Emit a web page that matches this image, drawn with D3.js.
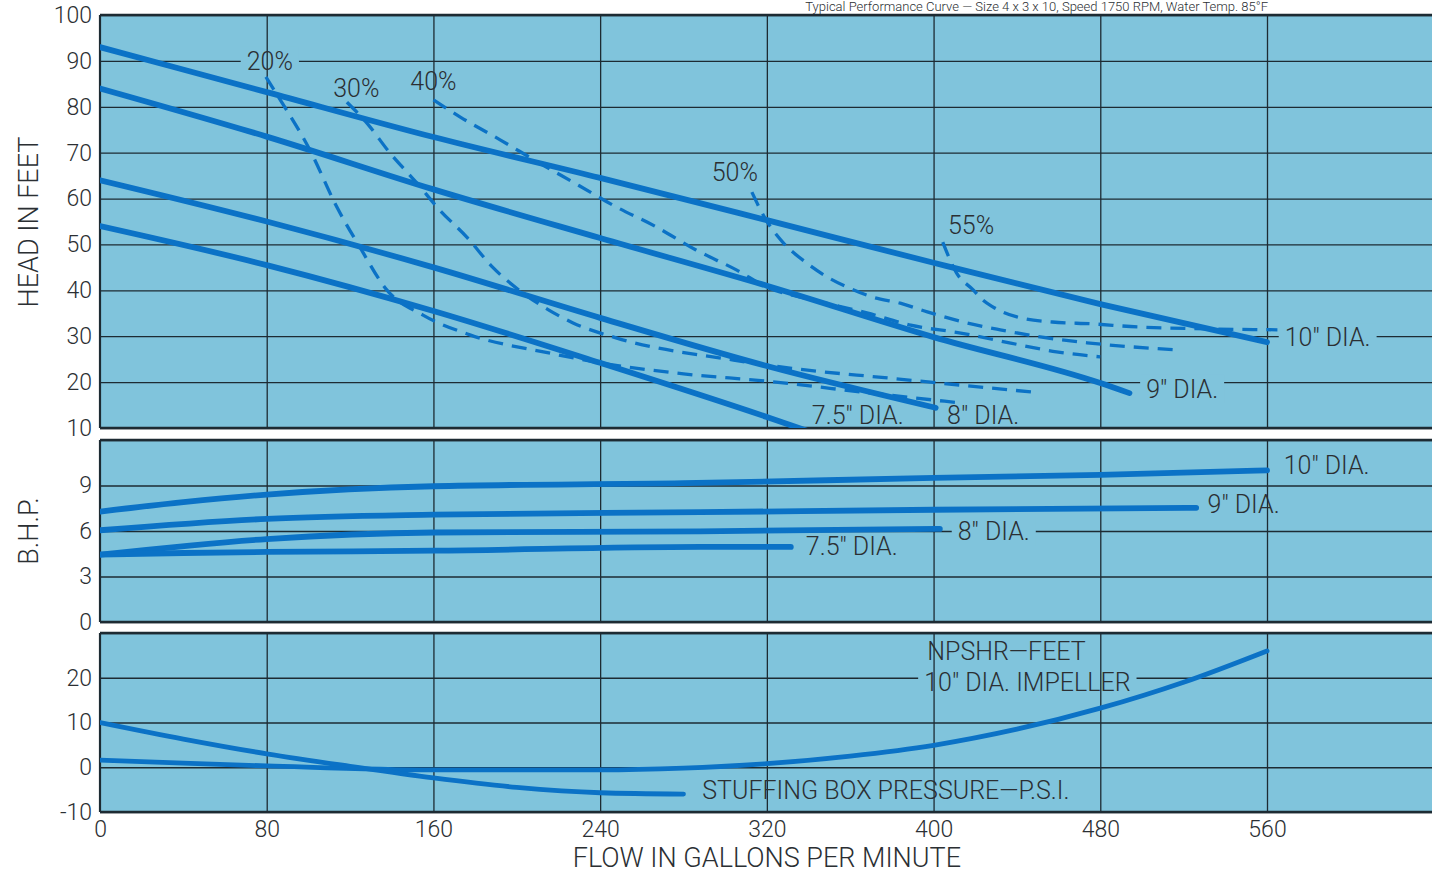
<!DOCTYPE html>
<html>
<head>
<meta charset="utf-8">
<script src="https://cdn.jsdelivr.net/npm/d3@7"></script>
<style>
  body { margin: 0; background: #fff; }
  svg { display: block; }
  text { font-family: Roboto, "Liberation Sans", sans-serif; font-weight: 300; fill: #2b2f33; }
</style>
</head>
<body>
<div id="graph"></div>
<script>
// ---- data ----
var flowTicks = [0, 80, 160, 240, 320, 400, 480, 560];
var headTicks = [10, 20, 30, 40, 50, 60, 70, 80, 90, 100];
var bhpTicks = [0, 3, 6, 9];
var npshTicks = [-10, 0, 10, 20];

// head vs flow, per impeller diameter
var head10 = [[0, 93], [80, 83.2], [160, 73.4], [240, 64.5], [320, 55.3], [400, 46], [480, 37], [560, 28.7]];
var head9 = [[0, 84], [80, 73.5], [160, 62], [240, 51.4], [320, 41], [400, 29.8], [480, 19.8], [494, 17.6]];
var head8 = [[0, 64], [80, 55], [160, 45], [240, 34], [320, 23.5], [401, 14.4]];
var head75 = [[0, 54], [80, 45.5], [160, 35.5], [240, 24.2], [320, 12.4], [345, 8.5]];

// efficiency lines
var eff20 = [[79.6, 86.5], [86.5, 81.5], [100.7, 70.6], [113.6, 58.2], [124.7, 49.4], [137.6, 40.1], [155, 34.6], [177.5, 30.3], [216, 26.3], [240, 24.2], [280, 21.8], [320, 20.2], [370, 17.6], [412, 15.5]];
var eff30 = [[118.5, 81], [128, 76.5], [139, 70], [152, 63.4], [163, 57.5], [176, 51.6], [188.5, 45], [203, 39.4], [215, 35.8], [227, 32.9], [248, 29.6], [304, 24.8], [332, 23], [378, 20.9], [448, 17.8]];
var eff40 = [[160, 81.5], [172.7, 77.8], [192, 72.8], [211, 67.7], [230, 62.8], [246, 58.6], [267, 53.8], [286, 48.8], [305.6, 44.4], [320, 40.7], [342, 37.9], [368, 35.1], [389, 32.4], [413, 30.7], [437, 28.5], [459, 26.6], [480, 25.5]];
var eff50 = [[312.8, 61.4], [319, 55.8], [328, 50.3], [339, 46], [349, 42.9], [358.5, 40.7], [371, 38.5], [384, 37.2], [397, 35.3], [416, 32.9], [432, 31.4], [452, 29.8], [475, 28.5], [518, 27]];
var eff55 = [[404.4, 50.5], [411, 43.8], [419, 40.1], [423.6, 37.9], [428.4, 36.4], [440, 34.2], [457, 33.1], [476, 32.7], [499, 32], [565, 31.4]];

// brake horsepower
var bhp10 = [[0, 7.28], [40, 7.9], [80, 8.4], [160, 8.95], [280, 9.15], [400, 9.5], [480, 9.7], [560, 10]];
var bhp9 = [[0, 6.05], [80, 6.8], [160, 7.08], [288, 7.24], [400, 7.4], [526, 7.53]];
var bhp8 = [[0, 4.44], [80, 5.47], [160, 5.9], [288, 5.98], [403, 6.14]];
var bhp75 = [[0, 4.44], [40, 4.55], [80, 4.62], [160, 4.7], [288, 4.95], [331.5, 4.95]];

// NPSHR and stuffing box pressure
var npshr = [[0, 1.6], [40, 0.9], [80, 0.3], [160, -0.6], [240, -0.6], [280, -0.2], [320, 0.8], [360, 2.5], [400, 4.9], [440, 8.5], [480, 13.2], [520, 19], [560, 26]];
var stuffBox = [[0, 10], [40, 6.3], [80, 3], [120, 0.2], [160, -2.4], [200, -4.5], [240, -5.7], [280, -6]];

// ---- layout ----
var width = 1432;
var height = 875;
var left = 100;
var bg = "#80c4dc";
var blue = "#0b72c6";
var grid = "#1d2b33";

var svg = d3.select("#graph").append("svg")
    .attr("width", width)
    .attr("height", height);

var x = d3.scaleLinear().domain([0, 560]).range([left, 1267]);

// title (mostly cut off in the original, kept small here)
svg.append("text")
    .attr("x", 1268).attr("y", 11)
    .attr("text-anchor", "end")
    .style("font-size", "13px")
    .text("Typical Performance Curve — Size 4 x 3 x 10, Speed 1750 RPM, Water Temp. 85°F");

function plain(d) { return String(d); }

function makePanel(top, bottom, domain, gridVals, labelVals) {
    var y = d3.scaleLinear().domain(domain).range([bottom, top]);
    var g = svg.append("g");
    var id = "clip" + top;

    svg.append("clipPath").attr("id", id)
      .append("rect")
        .attr("x", left).attr("y", top)
        .attr("width", width - left).attr("height", bottom - top);

    g.append("rect")
        .attr("x", left).attr("y", top)
        .attr("width", width - left).attr("height", bottom - top)
        .style("fill", bg);

    // horizontal grid
    g.append("g")
        .attr("transform", "translate(" + left + ",0)")
        .call(d3.axisLeft(y).tickValues(gridVals).tickSize(-(width - left)).tickFormat(""))
        .call(function (a) { a.select(".domain").remove(); })
        .selectAll("line").style("stroke", grid).style("stroke-width", 1.3);

    g.halo = g.append("g");

    // vertical grid
    g.append("g")
        .attr("transform", "translate(0," + bottom + ")")
        .call(d3.axisBottom(x).tickValues(flowTicks.slice(1)).tickSize(-(bottom - top)).tickFormat(""))
        .call(function (a) { a.select(".domain").remove(); })
        .selectAll("line").style("stroke", grid).style("stroke-width", 1.3);

    // frame
    g.append("line").attr("x1", left).attr("x2", width).attr("y1", top).attr("y2", top)
        .style("stroke", grid).style("stroke-width", 2.5);
    g.append("line").attr("x1", left).attr("x2", width).attr("y1", bottom).attr("y2", bottom)
        .style("stroke", grid).style("stroke-width", 2.5);
    g.append("line").attr("x1", left).attr("x2", left).attr("y1", top).attr("y2", bottom)
        .style("stroke", grid).style("stroke-width", 2.2);

    // tick labels
    var ax = g.append("g")
        .attr("transform", "translate(" + (left - 8) + ",0)")
        .call(d3.axisLeft(y).tickValues(labelVals).tickSize(0).tickPadding(0).tickFormat(plain));
    ax.select(".domain").remove();
    ax.selectAll("text").style("font-size", "23px").style("font-family", null).attr("fill", null);

    g.plot = g.append("g").attr("clip-path", "url(#" + id + ")");
    g.labels = g.append("g");
    g.y = y;
    return g;
}

var headPanel = makePanel(15, 428, [10, 100], headTicks, headTicks);
var bhpPanel = makePanel(440, 622, [0, 12], [0, 3, 6, 9, 12], bhpTicks);
var npshPanel = makePanel(633, 812, [-10, 30], [-10, 0, 10, 20, 30], npshTicks);

function drawCurve(panel, data, w, dash) {
    var line = d3.line()
        .x(function (d) { return x(d[0]); })
        .y(function (d) { return panel.y(d[1]); })
        .curve(d3.curveMonotoneX);
    panel.plot.append("path")
        .datum(data)
        .attr("d", line)
        .style("fill", "none")
        .style("stroke", blue)
        .style("stroke-width", w)
        .style("stroke-linecap", dash ? "butt" : "round")
        .style("stroke-dasharray", dash ? "15,9" : null);
}

function label(panel, txt, gx, gy, anchor, halo) {
    var t = panel.labels.append("text")
        .attr("x", x(gx)).attr("y", panel.y(gy))
        .attr("dy", "0.36em")
        .attr("text-anchor", anchor)
        .style("font-size", "25px")
        .text(txt);
    if (halo) {
        var b = t.node().getBBox();
        panel.halo.append("rect")
            .attr("x", b.x - 6).attr("y", b.y)
            .attr("width", b.width + 12).attr("height", b.height)
            .style("fill", bg);
    }
}

// head curves
[eff20, eff30, eff40, eff50, eff55].forEach(function (d) { drawCurve(headPanel, d, 3.3, true); });
[head10, head9, head8, head75].forEach(function (d) { drawCurve(headPanel, d, 5.8, false); });

label(headPanel, "20%", 81.5, 90, "middle", true);
label(headPanel, "30%", 123, 84.2, "middle", false);
label(headPanel, "40%", 160, 85.6, "middle", false);
label(headPanel, "50%", 304.6, 65.8, "middle", false);
label(headPanel, "55%", 418, 54.2, "middle", false);
label(headPanel, "10″ DIA.", 568.5, 29.8, "start", true);
label(headPanel, "9″ DIA.", 502, 18.6, "start", true);
label(headPanel, "7.5″ DIA.", 341.6, 12.9, "start", false);
label(headPanel, "8″ DIA.", 406.5, 12.9, "start", false);

// bhp curves
[bhp10, bhp9, bhp8, bhp75].forEach(function (d) { drawCurve(bhpPanel, d, 5.8, false); });
label(bhpPanel, "10″ DIA.", 568, 10.35, "start", false);
label(bhpPanel, "9″ DIA.", 531.5, 7.75, "start", false);
label(bhpPanel, "8″ DIA.", 411.6, 6, "start", true);
label(bhpPanel, "7.5″ DIA.", 338.7, 5.0, "start", false);

// npshr / stuffing box
drawCurve(npshPanel, npshr, 4.8, false);
drawCurve(npshPanel, stuffBox, 4.8, false);
label(npshPanel, "NPSHR—FEET", 435, 26, "middle", false);
label(npshPanel, "10″ DIA. IMPELLER", 445, 19, "middle", true);
label(npshPanel, "STUFFING BOX PRESSURE—P.S.I.", 289, -5, "start", false);

// x axis
var xAxis = svg.append("g")
    .attr("transform", "translate(0,812)")
    .call(d3.axisBottom(x).tickValues(flowTicks).tickSize(0).tickPadding(9).tickFormat(plain));
xAxis.select(".domain").remove();
xAxis.selectAll("text").style("font-size", "23px").style("font-family", null).attr("fill", null);

svg.append("text")
    .attr("text-anchor", "middle")
    .attr("transform", "translate(" + x(320) + ",867)")
    .style("font-size", "27px")
    .text("FLOW IN GALLONS PER MINUTE");

svg.append("text")
    .attr("text-anchor", "middle")
    .attr("transform", "translate(38,222) rotate(-90)")
    .style("font-size", "27px")
    .text("HEAD IN FEET");

svg.append("text")
    .attr("text-anchor", "middle")
    .attr("transform", "translate(38,531) rotate(-90)")
    .style("font-size", "27px")
    .text("B.H.P.");
</script>
</body>
</html>
